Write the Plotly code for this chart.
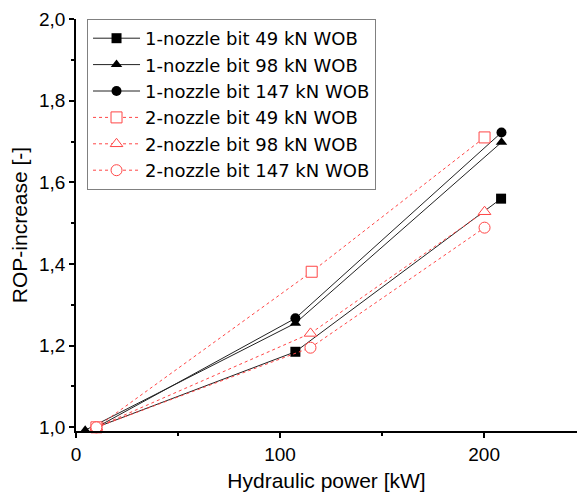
import plotly.graph_objects as go

names = ["1-nozzle bit 49 kN WOB", "1-nozzle bit 98 kN WOB", "1-nozzle bit 147 kN WOB",
         "2-nozzle bit 49 kN WOB", "2-nozzle bit 98 kN WOB", "2-nozzle bit 147 kN WOB"]

x_1n_49 = [10, 107.5, 208.3]
y_1n_49 = [1.0, 1.185, 1.560]
x_1n_98 = [4.5, 107.5, 208.5]
y_1n_98 = [0.993, 1.255, 1.698]
x_1n_147 = [10, 107.5, 208.5]
y_1n_147 = [1.0, 1.267, 1.722]
x_2n_49 = [10, 115.5, 200.2]
y_2n_49 = [1.0, 1.381, 1.710]
x_2n_98 = [10, 114.9, 200.2]
y_2n_98 = [1.0, 1.230, 1.528]
x_2n_147 = [10, 114.9, 200.2]
y_2n_147 = [1.0, 1.195, 1.489]

xs = [x_1n_49, x_1n_98, x_1n_147, x_2n_49, x_2n_98, x_2n_147]
ys = [y_1n_49, y_1n_98, y_1n_147, y_2n_49, y_2n_98, y_2n_147]
symbols = ["square", "triangle-up", "circle", "square", "triangle-up", "circle"]

RED = "rgb(255,70,70)"
fig = go.Figure()
for i in range(6):
    if i < 3:
        line = dict(color="#222222", width=1)
        marker = dict(symbol=symbols[i], size=10, color="black")
    else:
        line = dict(color=RED, width=1, dash="dot")
        marker = dict(symbol=symbols[i], size=11, color="white",
                      line=dict(color=RED, width=1))
    fig.add_trace(go.Scatter(x=xs[i], y=ys[i], mode="lines+markers", name=names[i],
                             line=line, marker=marker, cliponaxis=False))

fig.update_layout(
    width=577, height=494,
    margin=dict(l=76, r=0, t=19, b=63),
    paper_bgcolor="white", plot_bgcolor="white",
    separators=", ",
    font=dict(family="Liberation Sans, Arial, sans-serif", color="black", size=19),
    showlegend=True,
    legend=dict(x=0.022, y=1.0, xanchor="left", yanchor="top",
                bordercolor="#808080", borderwidth=1, bgcolor="white",
                font=dict(size=18, family="DejaVu Sans"), tracegroupgap=0,
                itemwidth=47),
    xaxis=dict(range=[0, 245.5], showgrid=False, zeroline=False,
               showline=True, linecolor="black", linewidth=1.5,
               ticks="outside", ticklen=5, tickwidth=1.5, tickcolor="black",
               tickvals=[0, 100, 200], ticktext=["0", "100", "200"],
               minor=dict(tickvals=[50, 150], ticks="outside", ticklen=3, tickcolor="black"),
               title=dict(text="Hydraulic power [kW]", font=dict(size=21), standoff=10)),
    yaxis=dict(range=[0.991, 2.0], showgrid=False, zeroline=False,
               showline=True, linecolor="black", linewidth=1.5,
               ticks="outside", ticklen=5, tickwidth=1.5, tickcolor="black",
               tickvals=[1.0, 1.2, 1.4, 1.6, 1.8, 2.0], tickformat=".1f",
               minor=dict(tickvals=[1.1, 1.3, 1.5, 1.7, 1.9], ticks="outside", ticklen=3, tickcolor="black"),
               title=dict(text="ROP-increase [-]", font=dict(size=21), standoff=6)),
)

fig.write_html("out.html")
